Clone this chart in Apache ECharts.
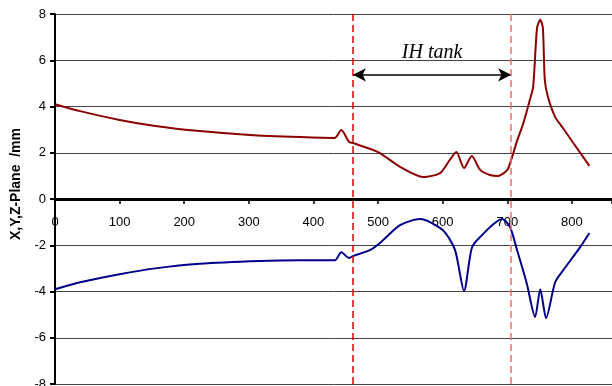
<!DOCTYPE html>
<html>
<head>
<meta charset="utf-8">
<script src="https://cdn.jsdelivr.net/npm/echarts@6/dist/echarts.min.js"></script>
<style>
html, body { margin: 0; padding: 0; background: #fff; }
#chart { width: 612px; height: 386px; }
</style>
</head>
<body>
<div id="chart"></div>
<script>
// upper curve (dark red) [x, value]
const upperCurve = [
  [0, 4.1], [39, 3.8], [100, 3.42], [155, 3.16], [224, 2.94], [302, 2.77],
  [379, 2.68], [433, 2.64], [443, 2.98], [455, 2.47], [461, 2.42], [500, 2.03],
  [534, 1.39], [570, 0.95], [596, 1.12], [611, 1.69], [621, 2.03], [633, 1.34],
  [645, 1.86], [658, 1.26], [673, 1.04], [686, 1.0], [700, 1.26], [706, 1.7],
  [715, 2.5], [725, 3.3], [735, 4.3], [740, 4.85], [746, 7.4], [751, 7.75],
  [755, 7.4], [758, 5.15], [763, 4.4], [774, 3.55], [786, 3.07], [827, 1.43]
];
// lower curve (navy) [x, value]
const lowerCurve = [
  [0, -3.9], [39, -3.6], [100, -3.25], [155, -3.0], [224, -2.8], [317, -2.68],
  [379, -2.65], [433, -2.65], [443, -2.3], [455, -2.55], [461, -2.47], [488, -2.2],
  [503, -1.9], [534, -1.13], [565, -0.87], [600, -1.34], [619, -2.2], [633, -3.98],
  [645, -2.12], [658, -1.64], [692, -0.87], [704, -1.2], [715, -2.2], [730, -3.64],
  [743, -5.1], [751, -3.9], [760, -5.15], [774, -3.6], [786, -3.1], [813, -2.07],
  [827, -1.47]
];
// tank boundaries and annotation
const tankEdges = [461, 706];
const arrowLevel = 5.37;
const tankLabel = 'IH tank';
const yTicks = [-8, -6, -4, -2, 0, 2, 4, 6, 8];
const yName = 'X,Y,Z-Plane  /mm';

const edgeSeries = (x, color, width) => ({
  type: 'line',
  data: [],
  markLine: {
    silent: true,
    symbol: ['none', 'none'],
    label: { show: false },
    lineStyle: { color: color, width: width, type: [7, 4], opacity: 1 },
    emphasis: { disabled: true },
    data: [{ xAxis: x, lineStyle: { color: color } }]
  }
});

const chart = echarts.init(document.getElementById('chart'));
chart.setOption({
  animation: false,
  grid: { left: 55, right: 0, top: 14, bottom: 2, outerBoundsMode: 'none', containLabel: false },
  graphic: [{
    type: 'text',
    x: 16,
    y: 184,
    rotation: Math.PI / 2,
    style: {
      text: yName,
      fontFamily: 'Liberation Sans',
      fontWeight: 'bold',
      fontSize: 14,
      fill: '#000',
      align: 'center',
      verticalAlign: 'middle'
    }
  }],
  xAxis: {
    type: 'value',
    min: 0,
    max: 862,
    interval: 100,
    position: 'bottom',
    offset: -185,
    axisLine: { onZero: false, lineStyle: { color: '#000', width: 3 } },
    axisTick: { show: true, length: 5, lineStyle: { color: '#000', width: 1.5 } },
    axisLabel: {
      margin: 17,
      fontFamily: 'Liberation Sans',
      fontSize: 13,
      color: '#000',
      formatter: v => (v % 100 === 0 ? String(v) : '')
    },
    splitLine: { show: false }
  },
  yAxis: {
    type: 'value',
    min: yTicks[0],
    max: yTicks[yTicks.length - 1],
    interval: 2,
    axisLine: { show: true, lineStyle: { color: '#000', width: 2 } },
    axisTick: { show: true, length: 5, lineStyle: { color: '#000', width: 2 } },
    axisLabel: {
      margin: 9,
      fontFamily: 'Liberation Sans',
      fontSize: 13,
      color: '#000'
    },
    splitLine: { show: true, lineStyle: { color: '#444', width: 1 } }
  },
  series: [
    {
      type: 'line',
      data: upperCurve,
      smooth: 0.25,
      symbol: 'none',
      lineStyle: { color: '#8b0000', width: 2 },
      markLine: {
        silent: true,
        symbol: ['arrow', 'arrow'],
        symbolSize: [10, 13],
        lineStyle: { color: '#000', width: 1.5, type: 'solid' },
        label: {
          show: true,
          position: 'middle',
          formatter: tankLabel,
          distance: 12,
          fontFamily: 'Liberation Serif',
          fontStyle: 'italic',
          fontSize: 20,
          color: '#000'
        },
        data: [[{ coord: [tankEdges[0], arrowLevel] }, { coord: [tankEdges[1], arrowLevel] }]]
      }
    },
    {
      type: 'line',
      data: lowerCurve,
      smooth: 0.25,
      symbol: 'none',
      lineStyle: { color: '#00008b', width: 2 }
    },
    edgeSeries(tankEdges[0], '#e00000', 1.5),
    edgeSeries(tankEdges[1], '#ff6a6a', 1.5)
  ]
});
</script>
</body>
</html>
